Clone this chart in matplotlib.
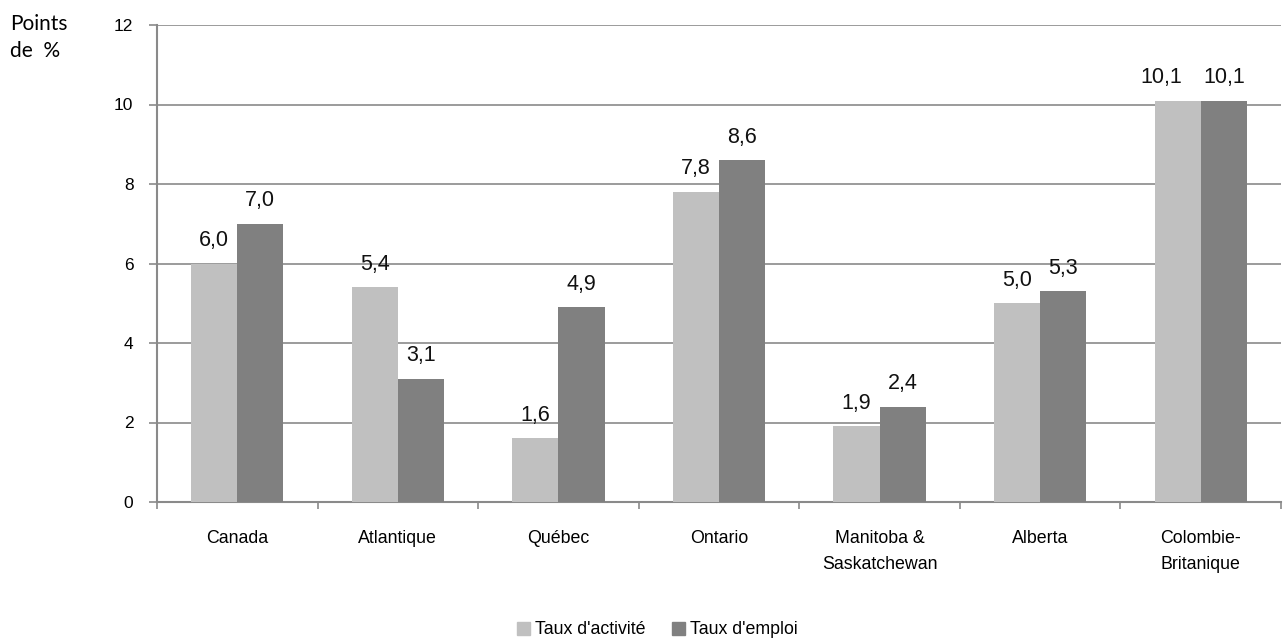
import matplotlib
matplotlib.use("Agg")
import matplotlib.pyplot as plt
import numpy as np
from matplotlib.patches import Patch

categories = ["Canada", "Atlantique", "Québec", "Ontario",
              "Manitoba &\nSaskatchewan", "Alberta", "Colombie-\nBritanique"]
taux_activite = [6.0, 5.4, 1.6, 7.8, 1.9, 5.0, 10.1]
taux_emploi = [7.0, 3.1, 4.9, 8.6, 2.4, 5.3, 10.1]
series_names = ["Taux d'activité", "Taux d'emploi"]
y_ticks = [0, 2, 4, 6, 8, 10, 12]

plt.rcParams["font.family"] = ["Liberation Sans", "DejaVu Sans"]

fig = plt.figure(figsize=(12.87, 6.42), dpi=100)
ax = fig.add_axes([157 / 1287, (642 - 502) / 642, (1281 - 157) / 1287, (502 - 25) / 642])

x = np.arange(len(categories))
w = 0.287
light, dark = "#C0C0C0", "#808080"
b1 = ax.bar(x - w / 2, taux_activite, w, color=light, zorder=3)
b2 = ax.bar(x + w / 2, taux_emploi, w, color=dark, zorder=3)

def fmt(v):
    return f"{v:.1f}".replace(".", ",")

for i, (va_, ve_) in enumerate(zip(taux_activite, taux_emploi)):
    # when both labels of a group sit at the same height, move the left one aside
    dx = -12 if abs(va_ - ve_) < 0.05 else 0
    for r, v, shift in ((b1[i], va_, dx), (b2[i], ve_, 0)):
        ax.annotate(fmt(v), (r.get_x() + r.get_width() / 2, v),
                    xytext=(shift, 9), textcoords="offset points",
                    ha="center", va="bottom", fontsize=15.5, color="#111111")

ax.set_xlim(-0.5, len(categories) - 0.5)
ax.set_ylim(0, 12)
ax.set_yticks(y_ticks)
ax.set_yticklabels([str(t) for t in y_ticks], fontsize=12.5)
ax.yaxis.grid(True, color="#8A8A8A", linewidth=1.2, zorder=0)

# boundaries between groups carry the tick marks, centers carry the labels
ax.set_xticks(np.arange(-0.5, len(categories) + 0.5, 1.0))
ax.set_xticklabels([])
ax.set_xticks(x, minor=True)
ax.set_xticklabels(categories, minor=True, fontsize=12.8, linespacing=1.65)
ax.tick_params(axis="x", which="minor", length=0, pad=20.5)
ax.tick_params(axis="x", which="major", length=5, color="#8A8A8A", width=1.2)
ax.tick_params(axis="y", length=6, color="#8A8A8A", width=1.2, pad=11)

for s in ("top", "right"):
    ax.spines[s].set_visible(False)
for s in ("left", "bottom"):
    ax.spines[s].set_color("#8A8A8A")
    ax.spines[s].set_linewidth(1.5)

fig.text(10 / 1287, 1 - 30 / 642, "Points", fontsize=15, family=["Lato", "DejaVu Sans"],
         va="baseline", ha="left")
fig.text(10 / 1287, 1 - 57 / 642, "de  %", fontsize=15, family=["Lato", "DejaVu Sans"],
         va="baseline", ha="left")

handles = [Patch(color=light), Patch(color=dark)]
fig.legend(handles, series_names, loc="center", bbox_to_anchor=(0.511, 1 - 630 / 642),
           ncol=2, frameon=False, fontsize=12.8, handlelength=0.7, handleheight=0.7,
           handletextpad=0.3, columnspacing=1.5)

fig.savefig("out.png", dpi=100)
